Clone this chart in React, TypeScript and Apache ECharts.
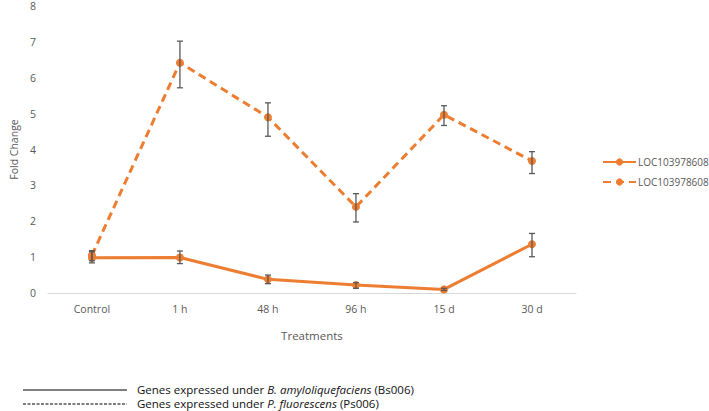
import React, { useEffect, useRef } from "react";
import * as echarts from "echarts";

const categories = ["Control", "1 h", "48 h", "96 h", "15 d", "30 d"];
const bsValues = [0.98, 0.99, 0.38, 0.22, 0.1, 1.36];
const bsLow = [0.84, 0.82, 0.26, 0.13, 0.07, 1.01];
const bsHigh = [1.15, 1.17, 0.5, 0.29, 0.13, 1.66];
const psValues = [1.05, 6.42, 4.9, 2.4, 4.97, 3.68];
const psLow = [0.9, 5.72, 4.37, 1.98, 4.67, 3.33];
const psHigh = [1.18, 7.02, 5.3, 2.77, 5.22, 3.94];
const yTicks = [0, 1, 2, 3, 4, 5, 6, 7, 8];
const geneName = "LOC103978608";

const ORANGE = "#ED7D31";
const GREY = "#595959";
const FONT = "'Open Sans', 'Liberation Sans', sans-serif";

export default function App() {
  const ref = useRef<HTMLDivElement>(null);
  useEffect(() => {
    if (!ref.current) return;
    const chart = echarts.init(ref.current, null, { renderer: "svg" });
    const errData = (lo: number[], hi: number[]) => lo.map((l, i) => [i, l, hi[i]]);
    const errRender = (params: any, api: any) => {
      const top = api.coord([api.value(0), api.value(2)]);
      const bot = api.coord([api.value(0), api.value(1)]);
      const w = 3;
      const style = { stroke: GREY, lineWidth: 1.3 };
      return {
        type: "group",
        children: [
          { type: "line", shape: { x1: top[0], y1: top[1], x2: bot[0], y2: bot[1] }, style },
          { type: "line", shape: { x1: top[0] - w, y1: top[1], x2: top[0] + w, y2: top[1] }, style },
          { type: "line", shape: { x1: bot[0] - w, y1: bot[1], x2: bot[0] + w, y2: bot[1] }, style },
        ],
      };
    };
    const legendText = (text: string, y: number) => ({
      type: "text",
      x: 137,
      y,
      style: {
        text,
        fill: "#111",
        font: `11.5px ${FONT}`,
        lineHeight: 12,
        verticalAlign: "middle",
        rich: { i: { fontStyle: "italic", fontSize: 11.5, lineHeight: 12, fontFamily: FONT, fill: "#111" } },
      },
    });
    chart.setOption({
      animation: false,
      textStyle: { fontFamily: FONT },
      grid: { left: 33, right: 133, top: 6, bottom: 118, containLabel: false },
      xAxis: {
        type: "category",
        data: categories,
        boundaryGap: true,
        axisLine: { lineStyle: { color: "#d9d9d9", width: 1 } },
        axisTick: { show: false },
        axisLabel: { color: GREY, fontSize: 10.5, margin: 10, fontFamily: FONT },
        name: "Treatments",
        nameLocation: "middle",
        nameGap: 36,
        nameTextStyle: { color: GREY, fontSize: 11.5, fontFamily: FONT },
      },
      yAxis: {
        type: "value",
        min: yTicks[0],
        max: yTicks[yTicks.length - 1],
        interval: 1,
        splitLine: { show: false },
        axisLine: { show: false },
        axisTick: { show: false },
        axisLabel: { color: GREY, fontSize: 10.5, margin: 12, fontFamily: FONT },
        name: "Fold Change",
        nameLocation: "middle",
        nameGap: 25,
        nameRotate: 90,
        nameTextStyle: { color: GREY, fontSize: 10.5, fontFamily: FONT },
      },
      legend: {
        orient: "vertical",
        left: 597,
        top: 152,
        itemWidth: 33,
        itemHeight: 9,
        itemGap: 10,
        data: ["bs", "ps"],
        formatter: () => geneName,
        textStyle: { color: GREY, fontSize: 10, fontFamily: FONT, padding: [0, 0, 0, -3] },
      },
      series: [
        {
          name: "bs",
          type: "line",
          data: bsValues,
          symbol: "circle",
          symbolSize: 8,
          itemStyle: { color: ORANGE },
          lineStyle: { color: ORANGE, width: 3 },
          z: 3,
        },
        {
          name: "ps",
          type: "line",
          data: psValues,
          symbol: "circle",
          symbolSize: 8,
          itemStyle: { color: ORANGE },
          lineStyle: { color: ORANGE, width: 3, type: [8, 5] },
          z: 3,
        },
        {
          name: "bsErr",
          type: "custom",
          renderItem: errRender,
          data: errData(bsLow, bsHigh),
          z: 4,
          silent: true,
        },
        {
          name: "psErr",
          type: "custom",
          renderItem: errRender,
          data: errData(psLow, psHigh),
          z: 4,
          silent: true,
        },
      ],
      graphic: [
        { type: "line", shape: { x1: 23, y1: 390, x2: 127, y2: 390 }, style: { stroke: "#000", lineWidth: 1 } },
        { type: "line", shape: { x1: 23, y1: 404, x2: 127, y2: 404 }, style: { stroke: "#000", lineWidth: 1, lineDash: [3, 1.5] } },
        legendText("Genes expressed under {i|B. amyloliquefaciens} (Bs006)", 389),
        legendText("Genes expressed under {i|P. fluorescens} (Ps006)", 403),
      ],
    });
    return () => chart.dispose();
  }, []);
  return (
    <div
      ref={ref}
      style={{ position: "fixed", left: 0, top: 0, width: 709, height: 411, background: "#fff" }}
    />
  );
}
